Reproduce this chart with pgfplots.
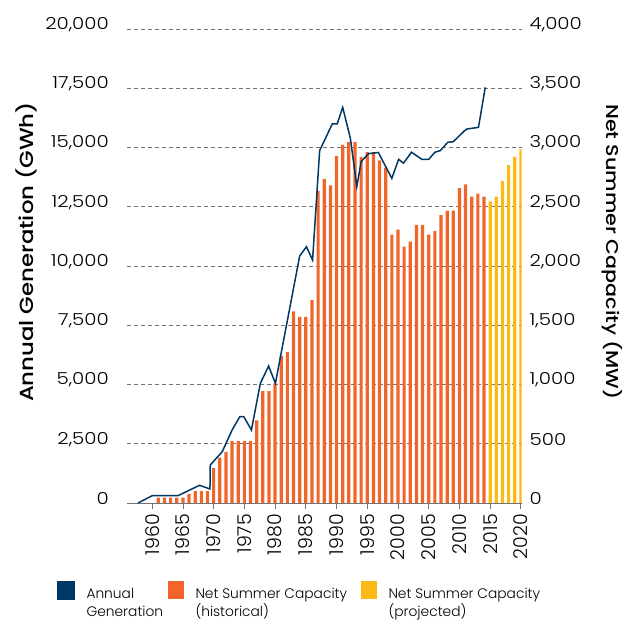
\documentclass[border=0pt]{standalone}
\usepackage{pgfplots}
\pgfplotsset{compat=1.18}
\usepackage{fontspec}
\setmainfont{Poppins Light}
\newfontfamily\tickfont{Poppins Light}[FakeStretch=1.2]
\newfontfamily\labelfont{Poppins Medium}[FakeStretch=1.2]

\definecolor{navy}{RGB}{0,56,101}
\definecolor{capor}{RGB}{242,101,42}
\definecolor{capyel}{RGB}{253,185,19}
\definecolor{gridgray}{RGB}{115,115,115}

\pgfplotsset{
  sq legend/.style={legend image code/.code={\fill[##1] (0pt,-4.5pt) rectangle (16.5pt,13pt);}},
  base/.style={
    at={(127pt,-503pt)}, anchor=south west,
    scale only axis, width=394.5pt, height=474pt,
    xmin=1955.9, xmax=2020.1, ymin=0,
    scaled ticks=false,
    /pgf/number format/assume math mode=true,
    /pgf/number format/1000 sep={,},
    yticklabel style={font=\tickfont\fontsize{16.5}{18}\selectfont},
  },
}

\begin{document}
\begin{tikzpicture}
\useasboundingbox (0,0) rectangle (631pt,-620pt);

% capacity (MW), right axis, bars
\begin{axis}[base,
  ymax=4000,
  axis x line=none, axis y line*=right,
  y axis line style={draw=none},
  ytick={0,500,...,4000}, ytick style={draw=none},
  yticklabel style={anchor=west, inner sep=0pt, xshift=8pt, yshift=4.5pt},
  ymajorgrids, grid style={gridgray, dash pattern=on 4pt off 3pt, line width=0.9pt},
  ylabel={\labelfont Net Summer Capacity (MW)},
  ylabel style={at={(axis description cs:1.2294,0.5295)}, anchor=center, rotate=180,
    font=\fontsize{17.2}{19}\selectfont},
  ybar, bar width=3.2pt, bar shift=0pt,
]
\addplot[fill=capor, draw=none] coordinates {
  (1961,45) (1962,45) (1963,45) (1964,45) (1965,45) (1966,78) (1967,101) (1968,101)
  (1969,101) (1970,295) (1971,382) (1972,430) (1973,523) (1974,523) (1975,523)
  (1976,523) (1977,698) (1978,945) (1979,945) (1980,1010) (1981,1242) (1982,1273)
  (1983,1617) (1984,1571) (1985,1571) (1986,1713) (1987,2633) (1988,2733) (1989,2681)
  (1990,2928) (1991,3022) (1992,3048) (1993,3048) (1994,2920) (1995,2960) (1996,2960)
  (1997,2892) (1998,2830) (1999,2264) (2000,2307) (2001,2163) (2002,2205) (2003,2346)
  (2004,2346) (2005,2264) (2006,2295) (2007,2430) (2008,2467) (2009,2467) (2010,2658)
  (2011,2689) (2012,2585) (2013,2610) (2014,2585)
};
\addplot[fill=capyel, draw=none] coordinates {
  (2015,2546) (2016,2585) (2017,2717) (2018,2852) (2019,2922) (2020,2985)
};
\end{axis}

% generation (GWh), left axis, line
\begin{axis}[base,
  ymax=20000,
  axis x line*=bottom, axis y line*=left,
  y axis line style={draw=none},
  x axis line style={gridgray, line width=1pt, -},
  xtick={1960,1965,...,2020},
  xticklabel style={font=\fontsize{19}{20}\selectfont, rotate=90, anchor=east,
    inner ysep=0pt, inner xsep=5pt, /pgf/number format/1000 sep={}},
  tick align=outside, major tick length=6pt,
  xtick style={gridgray, line width=0.8pt},
  ytick={0,2500,...,20000}, ytick style={draw=none},
  yticklabel style={anchor=east, inner sep=0pt, xshift=-12pt, yshift=4.5pt},
  ylabel={\labelfont Annual Generation (GWh)},
  ylabel style={at={(axis description cs:-0.256,0.5295)}, anchor=center,
    font=\fontsize{19}{20}\selectfont},
  legend style={at={(axis description cs:-0.1774,-0.1635)}, anchor=north west,
    draw=none, fill=none, inner sep=0pt, outer sep=0pt,
    legend columns=3, font=\fontsize{13.8}{17.5}\selectfont,
    nodes={inner sep=0pt},
    /tikz/every odd column/.append style={column sep=11.5pt}},
  legend cell align=left,
]
\addplot[navy, line width=1.5pt, sharp plot, sq legend] coordinates {
  (1957.7,0) (1960,308) (1964.2,308) (1967.7,747) (1969.4,591) (1969.45,1603)
  (1971.4,2165) (1973.0,3080) (1974.25,3642) (1974.9,3642) (1976.15,3080)
  (1977.6,5050) (1978.95,5780) (1980.05,5050) (1984.0,10422) (1985.1,10814)
  (1986.1,10253) (1987.25,14870) (1989.3,15992) (1990.1,15992) (1991.0,16695)
  (1992.25,15387) (1993.3,13347) (1994.0,14402) (1995.2,14740) (1996.8,14790)
  (1999.0,13700) (2000.1,14500) (2000.9,14340) (2002.2,14800) (2003.9,14500)
  (2005.0,14500) (2006.0,14800) (2006.9,14870) (2008.1,15220) (2009.0,15245)
  (2010.8,15700) (2011.2,15780) (2013.1,15850) (2014.2,17540)
};
\addlegendentry{\parbox[t]{81pt}{Annual\\Generation}}
\addlegendimage{sq legend, fill=capor, draw=none}
\addlegendentry{\parbox[t]{165pt}{Net Summer Capacity\\(historical)}}
\addlegendimage{sq legend, fill=capyel, draw=none}
\addlegendentry{\parbox[t]{160pt}{Net Summer Capacity\\(projected)}}
\end{axis}
\end{tikzpicture}
\end{document}
